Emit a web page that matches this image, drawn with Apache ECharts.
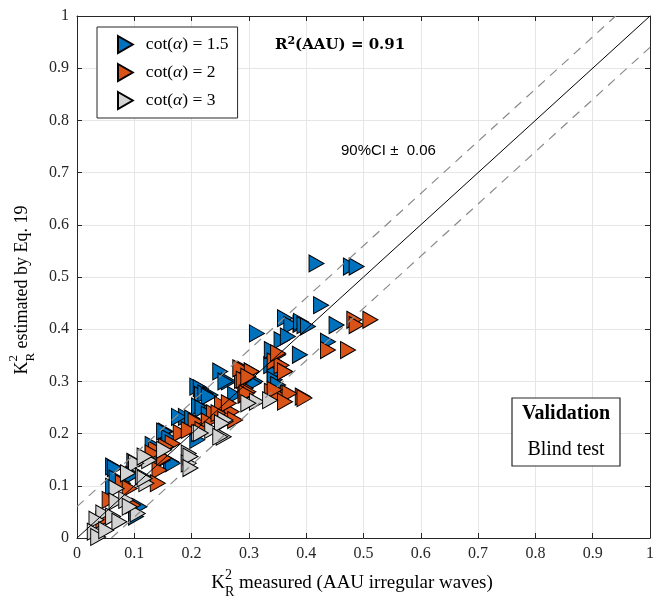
<!DOCTYPE html>
<html><head><meta charset="utf-8">
<script src="https://cdn.jsdelivr.net/npm/echarts/dist/echarts.min.js"></script>
<style>html,body{margin:0;padding:0;background:#fff}#c{width:657px;height:602px}</style>
</head><body><div id="c"></div>
<script>
const seriesNames = ['cot(α) = 1.5', 'cot(α) = 2', 'cot(α) = 3'];
const cot15 = [[0.418,0.526],[0.478,0.520],[0.488,0.520],[0.426,0.446],[0.390,0.410],[0.453,0.408],[0.438,0.376],[0.389,0.351],[0.314,0.392],[0.363,0.421],[0.374,0.408],[0.391,0.414],[0.397,0.408],[0.403,0.405],[0.357,0.379],[0.368,0.386],[0.339,0.331],[0.345,0.316],[0.305,0.319],[0.345,0.303],[0.351,0.293],[0.250,0.319],[0.265,0.300],[0.259,0.300],[0.311,0.300],[0.210,0.290],[0.216,0.287],[0.218,0.274],[0.233,0.274],[0.224,0.277],[0.230,0.271],[0.276,0.274],[0.308,0.297],[0.213,0.252],[0.219,0.248],[0.190,0.232],[0.178,0.232],[0.201,0.229],[0.236,0.239],[0.230,0.236],[0.155,0.204],[0.152,0.204],[0.210,0.188],[0.161,0.191],[0.132,0.178],[0.100,0.146],[0.164,0.146],[0.167,0.143],[0.063,0.137],[0.066,0.134],[0.069,0.114],[0.063,0.098],[0.098,0.121],[0.109,0.060],[0.103,0.041],[0.340,0.360]];
const cot2 = [[0.484,0.418],[0.488,0.408],[0.512,0.418],[0.438,0.360],[0.473,0.360],[0.394,0.271],[0.351,0.351],[0.345,0.338],[0.357,0.331],[0.363,0.319],[0.294,0.322],[0.288,0.303],[0.340,0.280],[0.368,0.277],[0.294,0.287],[0.294,0.274],[0.285,0.325],[0.305,0.319],[0.291,0.303],[0.299,0.280],[0.351,0.274],[0.371,0.277],[0.397,0.268],[0.253,0.255],[0.270,0.242],[0.207,0.223],[0.299,0.309],[0.296,0.277],[0.345,0.284],[0.363,0.261],[0.265,0.258],[0.239,0.239],[0.276,0.226],[0.230,0.223],[0.351,0.354],[0.363,0.319],[0.247,0.239],[0.181,0.201],[0.195,0.207],[0.219,0.207],[0.167,0.181],[0.138,0.169],[0.155,0.175],[0.121,0.153],[0.149,0.149],[0.152,0.153],[0.132,0.162],[0.080,0.105],[0.092,0.095],[0.057,0.073],[0.098,0.063],[0.046,0.035],[0.144,0.130],[0.141,0.105]];
const cot3 = [[0.314,0.261],[0.337,0.264],[0.299,0.258],[0.259,0.223],[0.259,0.226],[0.213,0.201],[0.236,0.207],[0.256,0.194],[0.253,0.220],[0.216,0.201],[0.250,0.194],[0.195,0.162],[0.195,0.143],[0.198,0.156],[0.198,0.134],[0.126,0.149],[0.152,0.169],[0.103,0.143],[0.118,0.156],[0.089,0.124],[0.069,0.095],[0.121,0.105],[0.069,0.070],[0.086,0.073],[0.106,0.047],[0.046,0.047],[0.034,0.035],[0.063,0.041],[0.074,0.031],[0.031,0.012],[0.037,0.002],[0.051,0.015],[0.115,0.118],[0.118,0.114],[0.092,0.060]];
const oneToOne = [[0,0],[1,1]];
const ciUpper = [[0,0.06],[0.94,1]];
const ciLower = [[0.06,0],[1,0.94]];
const colors = ['#0072BD','#D95319','#D3D3D3'];

const SERIF = '"Liberation Serif","Times New Roman",serif';
const tri = 'path://M0,0 L13,7.5 L0,15 Z';

const cv = document.createElement('canvas').getContext('2d');
function tw(t, size, weight){ cv.font = (weight||'normal')+' '+size+'px '+SERIF; return cv.measureText(t).width; }

function krLabel(rest, size){
  const subSize = Math.round(size*0.72);
  const wK = tw('K', size), wS = Math.max(tw('R', subSize), tw('2', subSize)), wR = tw(rest, size);
  const total = wK + wS + wR, s = -total/2;
  const st = (t, x, y, fs) => ({type:'text', x:x, y:y, style:{text:t, font:fs+'px '+SERIF, fill:'#000', textVerticalAlign:'middle', textAlign:'left'}});
  return [st('K', s, 0, size), st('2', s+wK, -8, subSize), st('R', s+wK, 9, subSize), st(rest, s+wK+wS, 0, size)];
}

const chart = echarts.init(document.getElementById('c'));
const baseAxis = {
  min:0, max:1, interval:0.1,
  axisLine:{show:true, onZero:false, lineStyle:{color:'#262626', width:1}},
  axisTick:{show:true, inside:true, length:5, lineStyle:{color:'#262626'}},
};
const scatter = (i, data) => ({
  type:'scatter', name:seriesNames[i], data:data, symbol:tri, symbolSize:[15,17],
  itemStyle:{color:colors[i], borderColor:'#000', borderWidth:1, opacity:1}, z:2+i, silent:true
});
const refLine = (data, color, type, w) => ({
  type:'line', data:data, symbol:'none', silent:true, z:10,
  lineStyle:{color:color, width:w, type:type}
});
chart.setOption({
  animation:false,
  grid:{left:77, right:2, top:16, bottom:64, containLabel:false},
  xAxis:[
    Object.assign({type:'value', position:'bottom',
      axisLabel:{fontFamily:SERIF, fontSize:16, color:'#262626', margin:8},
      splitLine:{show:true, lineStyle:{color:'#e6e6e6', width:1}}}, baseAxis),
    Object.assign({type:'value', position:'top', axisLabel:{show:false}, splitLine:{show:false}}, baseAxis)
  ],
  yAxis:[
    Object.assign({type:'value', position:'left',
      axisLabel:{fontFamily:SERIF, fontSize:16, color:'#262626', margin:8},
      splitLine:{show:true, lineStyle:{color:'#e6e6e6', width:1}}}, baseAxis),
    Object.assign({type:'value', position:'right', axisLabel:{show:false}, splitLine:{show:false}}, baseAxis)
  ],
  legend:{
    data:seriesNames, orient:'vertical', left:97, top:27,
    backgroundColor:'#fff', borderColor:'#262626', borderWidth:1,
    padding:[8,9,8,20], itemGap:9, itemWidth:15, itemHeight:17,
    formatter: n => { const p = n.split('α'); return p[0]+'{a|α}'+p[1]; },
    textStyle:{fontFamily:SERIF, fontSize:17.5, color:'#000', padding:[0,0,0,8],
      rich:{a:{fontFamily:SERIF, fontStyle:'italic', fontSize:17.5, color:'#000'}}}
  },
  series:[
    scatter(0, cot15), scatter(1, cot2), scatter(2, cot3),
    refLine(oneToOne, '#000', 'solid', 1),
    refLine(ciUpper, '#8a8a8a', [9,7], 1.2),
    refLine(ciLower, '#8a8a8a', [9,7], 1.2)
  ],
  graphic:[
    {type:'text', left:275, top:36, z:100, style:{
      text:'{b|R}{s|2}{b|(AAU) = 0.91}',
      rich:{b:{font:'bold 15px "DejaVu Serif",serif', fill:'#000'}, s:{font:'bold 11px "DejaVu Serif",serif', fill:'#000', padding:[0,0,8,0]}}}},
    {type:'text', left:341, top:143, z:100, style:{text:'90%CI ±  0.06', font:'15px "Liberation Sans",Arial,sans-serif', fill:'#000'}},
    {type:'rect', shape:{x:512, y:398, width:108, height:68}, z:100, style:{fill:'#fff', stroke:'#262626', lineWidth:1.2}},
    {type:'text', x:566, y:414, z:101, style:{text:'Validation', font:'bold 20px '+SERIF, fill:'#000', textAlign:'center', textVerticalAlign:'middle'}},
    {type:'text', x:566, y:450, z:101, style:{text:'Blind test', font:'20px '+SERIF, fill:'#000', textAlign:'center', textVerticalAlign:'middle'}},
    {type:'group', x:352, y:583, z:100, children: krLabel(' measured (AAU irregular waves)', 19)},
    {type:'group', x:22, y:290, rotation:Math.PI/2, z:100, children: krLabel(' estimated by Eq. 19', 18)}
  ]
});
</script></body></html>
